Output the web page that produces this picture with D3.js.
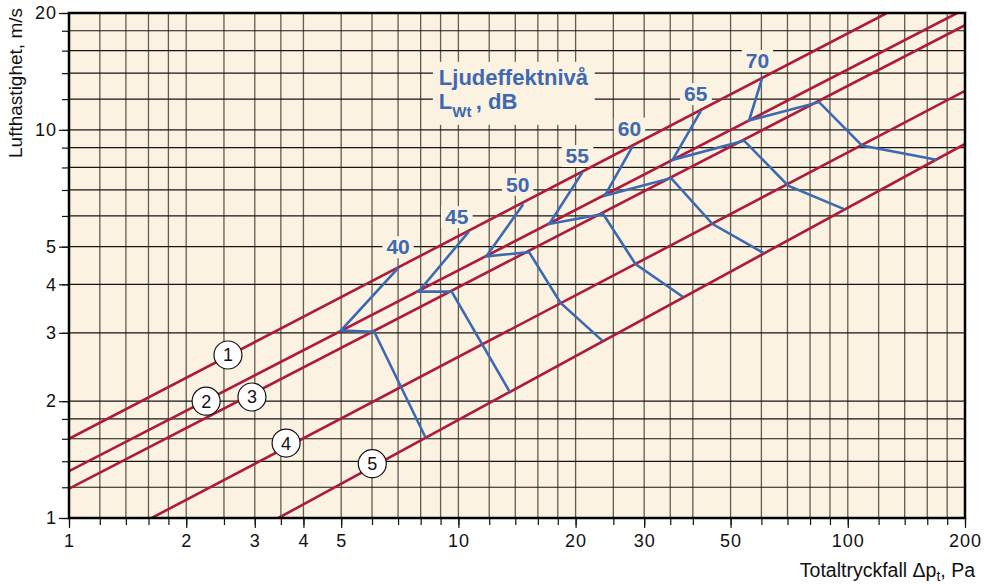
<!DOCTYPE html>
<html>
<head>
<meta charset="utf-8">
<script src="https://cdn.jsdelivr.net/npm/d3@7"></script>
<style>
    body { margin: 0; background: #fff; }
    svg { display: block; font-family: "Liberation Sans", Arial, Helvetica, sans-serif; }
    .tick text { font-size: 18px; letter-spacing: 1px; fill: #111; }
    .tick line { stroke: #111; stroke-width: 1.2; }
</style>
</head>
<body>
<div class="container"></div>
<script>
const width = 984,
    height = 584,
    margin = { top: 13, right: 19, bottom: 66, left: 69 };

// grid and tick values
const xGrid = [1, 1.2, 1.4, 1.6, 1.8, 2, 2.5, 3, 3.5, 4, 5, 6, 7, 8, 9, 10, 12, 14, 16, 18, 20,
    25, 30, 35, 40, 50, 60, 70, 80, 90, 100, 120, 140, 160, 180, 200];
const yGrid = [1, 1.2, 1.4, 1.6, 1.8, 2, 3, 4, 5, 6, 7, 8, 9, 10, 12, 14, 16, 18, 20];
const xLabels = [1, 2, 3, 4, 5, 10, 20, 30, 50, 100, 200];
const yLabels = [1, 2, 3, 4, 5, 10, 20];

// red system lines, [Δp, v] at both ends
const lineIds = [1, 2, 3, 4, 5];
const lineStart = [[1, 1.6], [1, 1.32], [1, 1.19], [1.63, 1], [3.45, 1]];
const lineEnd = [[126, 20], [191, 20], [200, 18.6], [200, 12.6], [200, 9.2]];
const markerPos = [[2.56, 2.63], [2.25, 2.0], [2.95, 2.05], [3.61, 1.56], [6.01, 1.38]];

// sound power level curves
const levels = [40, 45, 50, 55, 60, 65, 70];
const levelCurves = [
    [[7.03, 4.42], [4.99, 3.04], [6.08, 3.02], [8.24, 1.61]],
    [[10.64, 5.47], [7.90, 3.83], [9.61, 3.83], [13.56, 2.11]],
    [[14.67, 6.43], [11.79, 4.72], [15.19, 4.84], [18.30, 3.58], [23.45, 2.86]],
    [[20.84, 7.78], [17.11, 5.72], [23.54, 6.07], [28.50, 4.51], [37.77, 3.71]],
    [[28.05, 9.09], [23.77, 6.77], [35.18, 7.51], [44.95, 5.72], [60.85, 4.81]],
    [[41.95, 11.19], [35.48, 8.37], [54.17, 9.38], [70.27, 7.18], [97.84, 6.25]],
    [[60.26, 13.59], [55.79, 10.57], [84.40, 11.79], [108.8, 9.11], [168.9, 8.37]]
];
const levelLabelPos = [[7.0, 5.0], [9.9, 5.98], [14.2, 7.25], [20.2, 8.59], [27.5, 10.1], [40.7, 12.4], [58.6, 15.1]];

const cream = '#fbf2e1',
    red = '#ad1a3c',
    blue = '#3d69b1';

const x = d3.scaleLog().domain([1, 200]).range([margin.left, width - margin.right]);
const y = d3.scaleLog().domain([1, 20]).range([height - margin.bottom, margin.top]);

const svg = d3.select('.container')
    .append('svg')
    .attr('width', width)
    .attr('height', height);

svg.append('defs').append('clipPath')
    .attr('id', 'plot-clip')
    .append('rect')
    .attr('x', x(1))
    .attr('y', y(20))
    .attr('width', x(200) - x(1))
    .attr('height', y(1) - y(20));

svg.append('rect')
    .attr('x', x(1))
    .attr('y', y(20))
    .attr('width', x(200) - x(1))
    .attr('height', y(1) - y(20))
    .attr('fill', cream);

const grid = svg.append('g').attr('class', 'grid');

grid.selectAll('.vline')
    .data(xGrid)
    .enter()
    .append('line')
    .attr('class', 'vline')
    .attr('x1', d => x(d))
    .attr('x2', d => x(d))
    .attr('y1', y(1))
    .attr('y2', y(20))
    .attr('stroke', '#625c53')
    .attr('stroke-width', 1.3);

grid.selectAll('.hline')
    .data(yGrid)
    .enter()
    .append('line')
    .attr('class', 'hline')
    .attr('x1', x(1))
    .attr('x2', x(200))
    .attr('y1', d => y(d))
    .attr('y2', d => y(d))
    .attr('stroke', '#161616')
    .attr('stroke-width', 1.2);

// title block "Ljudeffektnivå"
const title = svg.append('g');
const titleBox = title.append('rect').attr('fill', cream);
const titleText = title.append('text')
    .attr('fill', blue)
    .attr('font-weight', 'bold')
    .attr('font-size', 22);
titleText.append('tspan')
    .attr('x', x(8.91))
    .attr('y', y(13.06))
    .text('Ljudeffektnivå');
const line2 = titleText.append('tspan')
    .attr('x', x(8.91))
    .attr('y', y(13.06) + 24);
line2.append('tspan').text('L');
line2.append('tspan').attr('font-size', 15).attr('dy', 8).text('Wt');
line2.append('tspan').attr('dy', -8).text('\u2009, dB');
const tb = titleText.node().getBBox();
titleBox
    .attr('x', tb.x - 6)
    .attr('y', tb.y - 3)
    .attr('width', tb.width + 12)
    .attr('height', tb.height + 8);

// level number labels with cream backing
const levelLabels = svg.selectAll('.level-label')
    .data(levels)
    .enter()
    .append('g')
    .attr('class', 'level-label');

levelLabels.append('text')
    .attr('x', (d, i) => x(levelLabelPos[i][0]))
    .attr('y', (d, i) => y(levelLabelPos[i][1]))
    .attr('dy', '0.36em')
    .attr('text-anchor', 'middle')
    .attr('fill', blue)
    .attr('font-weight', 'bold')
    .attr('font-size', 21)
    .text(d => d);

levelLabels.each(function () {
    const g = d3.select(this);
    const b = g.select('text').node().getBBox();
    g.insert('rect', 'text')
        .attr('x', b.x - 4)
        .attr('y', b.y + 1)
        .attr('width', b.width + 8)
        .attr('height', b.height - 1)
        .attr('fill', cream);
});

const plot = svg.append('g').attr('clip-path', 'url(#plot-clip)');

plot.selectAll('.sys-line')
    .data(lineIds)
    .enter()
    .append('line')
    .attr('class', 'sys-line')
    .attr('x1', (d, i) => x(lineStart[i][0]))
    .attr('y1', (d, i) => y(lineStart[i][1]))
    .attr('x2', (d, i) => x(lineEnd[i][0]))
    .attr('y2', (d, i) => y(lineEnd[i][1]))
    .attr('stroke', red)
    .attr('stroke-width', 2.6);

const curve = d3.line()
    .x(d => x(d[0]))
    .y(d => y(d[1]));

plot.selectAll('.level-curve')
    .data(levelCurves)
    .enter()
    .append('path')
    .attr('class', 'level-curve')
    .attr('d', curve)
    .attr('fill', 'none')
    .attr('stroke', blue)
    .attr('stroke-width', 2.6)
    .attr('stroke-linejoin', 'miter');

const markers = svg.selectAll('.marker')
    .data(lineIds)
    .enter()
    .append('g')
    .attr('class', 'marker')
    .attr('transform', (d, i) => `translate(${x(markerPos[i][0])}, ${y(markerPos[i][1])})`);

markers.append('circle')
    .attr('r', 14)
    .attr('fill', '#fff')
    .attr('stroke', '#111')
    .attr('stroke-width', 1.2);

markers.append('text')
    .attr('text-anchor', 'middle')
    .attr('dy', '0.36em')
    .attr('font-size', 18)
    .attr('fill', '#111')
    .text(d => d);

// axes: short ticks at every grid line, longer labelled ticks
const fmt = d => d3.format('d')(d);

svg.append('g')
    .attr('transform', `translate(0, ${y(1)})`)
    .call(d3.axisBottom(x).tickValues(xGrid).tickSize(7).tickFormat(''))
    .call(g => g.select('.domain').remove());

svg.append('g')
    .attr('transform', `translate(0, ${y(1)})`)
    .call(d3.axisBottom(x).tickValues(xLabels).tickSize(10).tickPadding(6).tickFormat(fmt))
    .call(g => g.select('.domain').remove());

svg.append('g')
    .attr('transform', `translate(${x(1)}, 0)`)
    .call(d3.axisLeft(y).tickValues(yGrid).tickSize(7).tickFormat(''))
    .call(g => g.select('.domain').remove());

svg.append('g')
    .attr('transform', `translate(${x(1)}, 0)`)
    .call(d3.axisLeft(y).tickValues(yLabels).tickSize(10).tickPadding(2).tickFormat(fmt))
    .call(g => g.select('.domain').remove());

svg.append('rect')
    .attr('x', x(1))
    .attr('y', y(20))
    .attr('width', x(200) - x(1))
    .attr('height', y(1) - y(20))
    .attr('fill', 'none')
    .attr('stroke', '#000')
    .attr('stroke-width', 2.5);

svg.append('text')
    .attr('transform', `translate(22, ${y(20) - 5}) rotate(-90)`)
    .attr('text-anchor', 'end')
    .attr('font-size', 19)
    .attr('fill', '#111')
    .text('Lufthastighet, m/s');

const xTitle = svg.append('text')
    .attr('x', 975)
    .attr('y', 577)
    .attr('text-anchor', 'end')
    .attr('font-size', 19.5)
    .attr('fill', '#111');
xTitle.append('tspan').text('Totaltryckfall \u0394p');
xTitle.append('tspan').attr('font-size', 14).attr('dy', 4).text('t');
xTitle.append('tspan').attr('dy', -4).text(', Pa');
</script>
</body>
</html>
